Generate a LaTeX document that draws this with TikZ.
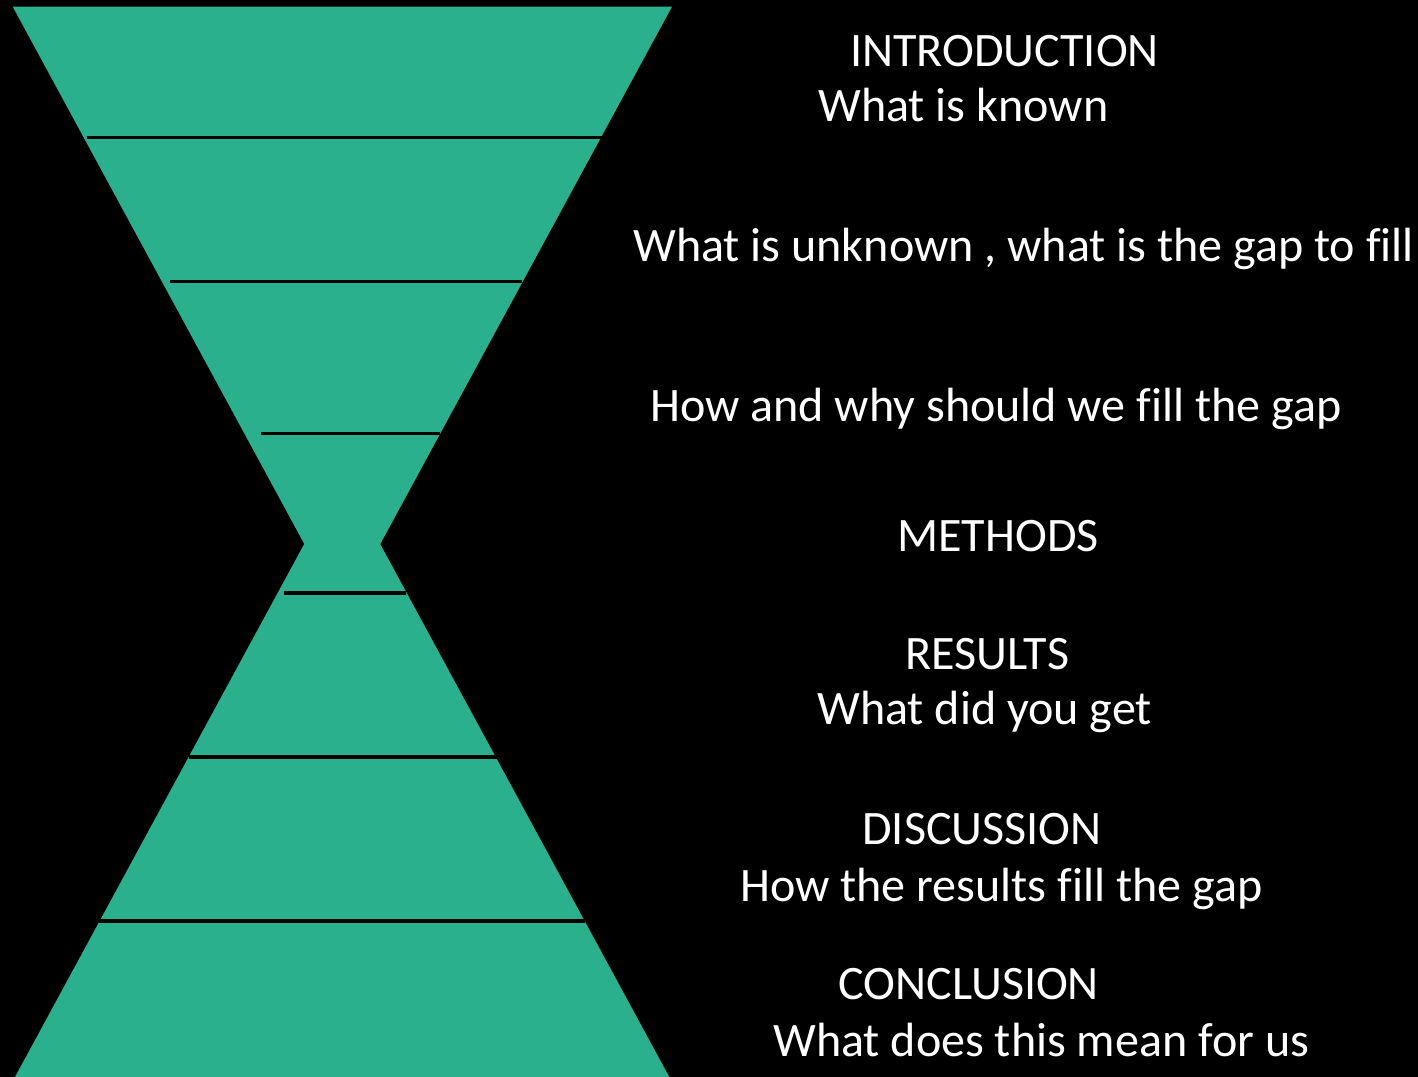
\documentclass[tikz,border=0pt]{standalone}
\usepackage{fontspec}
\setmainfont{Carlito}[Ligatures=NoCommon]
\usepackage{tikz}
\definecolor{glassgreen}{RGB}{43,176,142}

\begin{document}
\begin{tikzpicture}[x=0.02cm, y=-0.02cm,
    caption/.style={text=white, anchor=base west, inner sep=0pt, font=\fontsize{27.35}{32}\selectfont},
    divider/.style={black, line width=2pt}]
      \fill [black] (0,0) rectangle (1418,1077);
      \useasboundingbox (0,0) rectangle (1418,1077);
      % hourglass: two crossing triangles
      \fill [glassgreen] (12.7,6.7) -- (672,6.7) -- (342.3,614) -- cycle;
      \fill [glassgreen] (15,1077) -- (669.3,1077) -- (342.2,474) -- cycle;
      \draw [divider] (86.5,137.5) -- (603,137.5);
      \draw [divider] (170,281.5) -- (522,281.5);
      \draw [divider] (261,433.5) -- (440,433.5);
      \draw [divider] (283.5,593) -- (406,593);
      \draw [divider] (189,757) -- (497,757);
      \draw [divider] (99,921) -- (585,921);
      % texts
      \node [caption] (intro) at (850,66.5) {INTRODUCTION};
      \node [caption] (known) at (818,121.5) {What is known};
      \node [caption] (unknown) at (633,261.5) {What is unknown , what is the gap to fill};
      \node [caption] (howwhy) at (650,421.5) {How and why should we fill the gap};
      \node [caption] (methods) at (897,551.5) {METHODS};
      \node [caption] (results) at (905,669.5) {RESULTS};
      \node [caption] (get) at (817,724.5) {What did you get};
      \node [caption] (discuss) at (862,844.5) {DISCUSSION};
      \node [caption] (fill) at (740,901.5) {How the results fill the gap};
      \node [caption] (concl) at (838,999.5) {CONCLUSION};
      \node [caption] (mean) at (773,1056.5) {What does this mean for us};
\end{tikzpicture}
\end{document}
